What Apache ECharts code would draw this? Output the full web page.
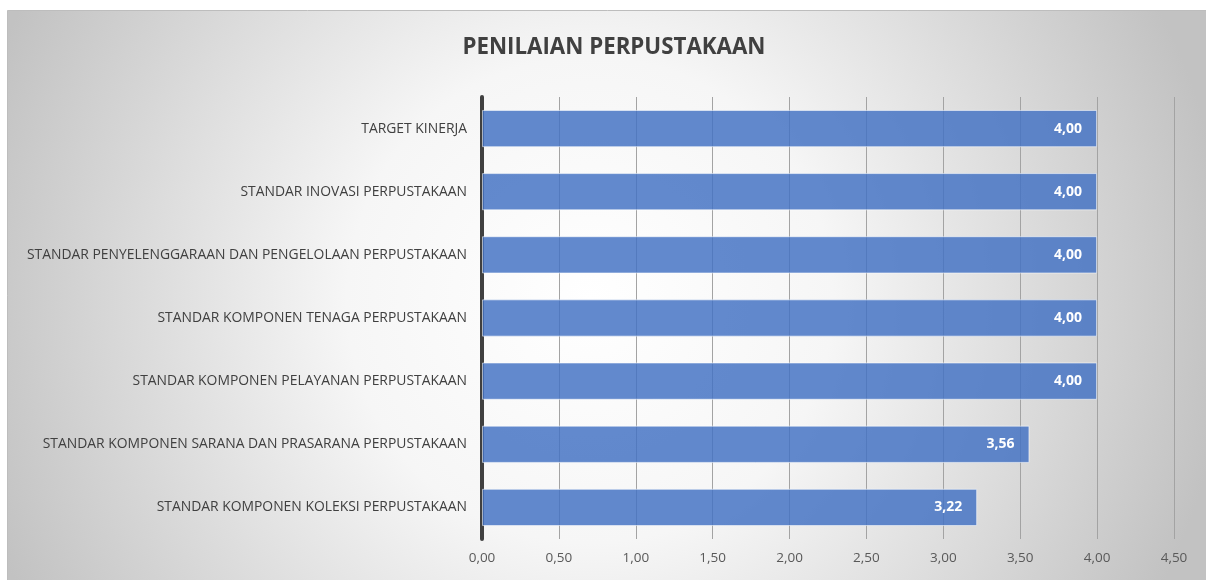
<!DOCTYPE html>
<html>
<head>
<meta charset="utf-8">
<script src="https://cdn.jsdelivr.net/npm/echarts@6/dist/echarts.min.js"></script>
<style>
  html, body { margin: 0; padding: 0; background: #ffffff; }
  #chart { width: 1206px; height: 580px; }
</style>
</head>
<body>
<div id="chart"></div>
<script>
// Assessment categories, listed top to bottom
const categories = [
  'TARGET KINERJA',
  'STANDAR INOVASI PERPUSTAKAAN',
  'STANDAR PENYELENGGARAAN DAN PENGELOLAAN PERPUSTAKAAN',
  'STANDAR KOMPONEN TENAGA PERPUSTAKAAN',
  'STANDAR KOMPONEN PELAYANAN PERPUSTAKAAN',
  'STANDAR KOMPONEN SARANA DAN PRASARANA PERPUSTAKAAN',
  'STANDAR KOMPONEN KOLEKSI PERPUSTAKAAN'
];
// Scores for each category
const scores = [4.00, 4.00, 4.00, 4.00, 4.00, 3.56, 3.22];
// Value axis range
const axisMin = 0;
const axisMax = 4.5;
const axisStep = 0.5;

const fmt = v => Number(v).toFixed(2).replace('.', ',');
const FONT = '"Open Sans", "Noto Sans", sans-serif';

const chart = echarts.init(document.getElementById('chart'), null, { renderer: 'canvas' });

chart.setOption({
  backgroundColor: 'transparent',
  animation: false,
  graphic: [{
    type: 'rect',
    z: -10,
    silent: true,
    shape: { x: 7.5, y: 10.5, width: 1200, height: 572 },
    style: {
      fill: new echarts.graphic.RadialGradient(590, 300, 640, [
        { offset: 0, color: '#ffffff' },
        { offset: 0.38, color: '#f6f6f6' },
        { offset: 1, color: '#c2c2c2' }
      ], true),
      stroke: '#bdbdbd',
      lineWidth: 1
    }
  }],
  title: {
    text: 'PENILAIAN PERPUSTAKAAN',
    left: 609,
    top: 32,
    textAlign: 'center',
    textStyle: {
      fontFamily: FONT,
      fontWeight: 'bold',
      fontSize: 22.3,
      color: '#404040'
    }
  },
  grid: {
    left: 482,
    right: 32,
    top: 97,
    bottom: 41,
    containLabel: false
  },
  xAxis: {
    type: 'value',
    min: axisMin,
    max: axisMax,
    interval: axisStep,
    axisLine: { show: false },
    axisTick: { show: false },
    splitLine: { show: true, lineStyle: { color: '#a3a3a3', width: 1 } },
    axisLabel: {
      margin: 12,
      fontFamily: FONT,
      fontSize: 13.5,
      color: '#595959',
      formatter: v => fmt(v)
    }
  },
  yAxis: {
    type: 'category',
    data: categories,
    inverse: true,
    axisLine: { show: true, lineStyle: { color: '#404040', width: 4 } },
    axisTick: { show: false },
    splitLine: { show: false },
    axisLabel: {
      margin: 15,
      fontFamily: FONT,
      fontSize: 13.9,
      color: '#404040'
    }
  },
  series: [{
    type: 'bar',
    data: scores,
    barWidth: '59%',
    itemStyle: {
      color: 'rgba(68,114,196,0.84)',
      borderColor: 'rgba(255,255,255,0.55)',
      borderWidth: 1
    },
    label: {
      show: true,
      position: 'insideRight',
      distance: 15,
      fontFamily: FONT,
      fontWeight: 'bold',
      fontSize: 14,
      color: '#ffffff',
      formatter: p => fmt(p.value)
    }
  }]
});
</script>
</body>
</html>
